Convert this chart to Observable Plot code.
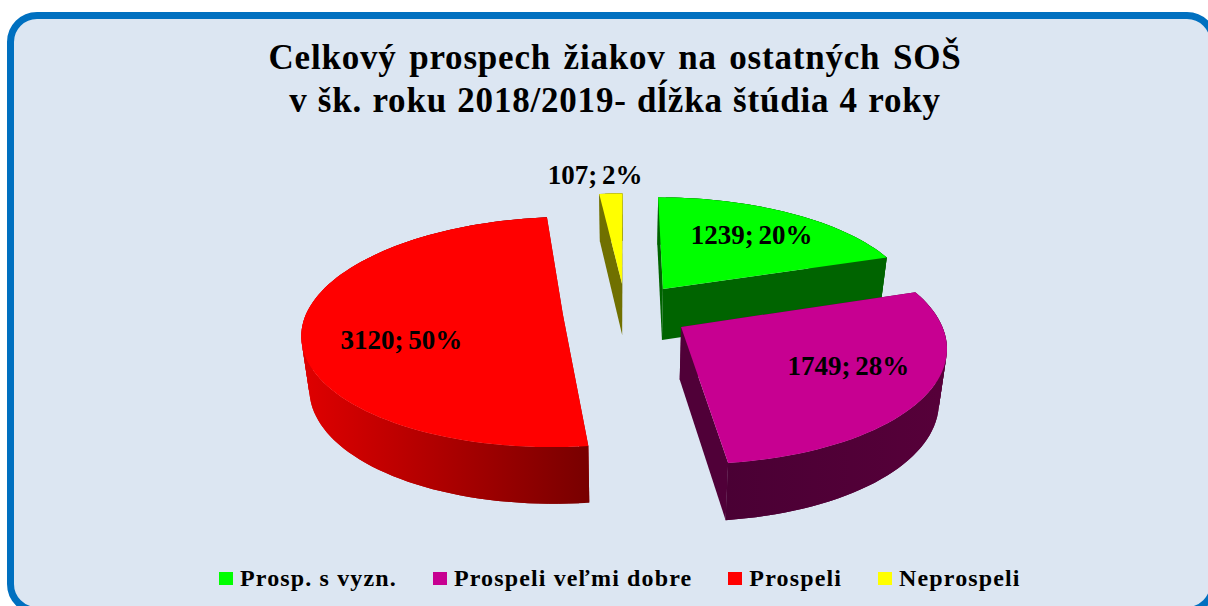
<!DOCTYPE html>
<html><head><meta charset="utf-8">
<script src="https://cdn.jsdelivr.net/npm/d3@7"></script>
<script src="https://cdn.jsdelivr.net/npm/@observablehq/plot@0.6"></script>
<style>
html,body{margin:0;padding:0;background:#fff;}
#stage{position:relative;width:1208px;height:606px;overflow:hidden;font-family:"Liberation Serif",serif;font-weight:bold;color:#000;}
#panel{position:absolute;left:7px;top:12px;width:1210px;height:602px;box-sizing:border-box;border:7.5px solid #0070c0;border-radius:30px;background:#dce6f2;}
#title{position:absolute;left:0;top:36px;width:1230px;text-align:center;font-size:35px;line-height:43px;letter-spacing:.8px;}
#title .l1{word-spacing:3px;} #title .l2{word-spacing:.8px;}
#chart{position:absolute;left:0;top:150px;}
#chart text{word-spacing:-2px;}
#legend{position:absolute;left:219px;top:564px;display:flex;gap:36px;font-size:24px;line-height:28px;letter-spacing:1.14px;white-space:nowrap;}
#legend .item{display:flex;align-items:center;gap:7px;}
#legend .sw{width:14px;height:13px;display:inline-block;}
</style></head>
<body><div id="stage"><div id="panel"></div>
<div id="title"><span class="l1">Celkový prospech žiakov na ostatných SOŠ</span><br><span class="l2">v šk. roku 2018/2019- dĺžka štúdia 4 roky</span></div>
<div id="chart"></div><div id="legend"></div></div>
<script>
const categories = ["Prosp. s vyzn.", "Prospeli veľmi dobre", "Prospeli", "Neprospeli"];
const values = [1239, 1749, 3120, 107];
const topColors = ["#00ff00", "#c70091", "#ff0000", "#ffff00"];
const wallColors = ["#006400", "#500038", "#a80000", "#707000"];
const arcShades = [["#006400","#006400"], ["#4a0034","#560039"], ["#dd0000","#780000"], ["#707000","#707000"]];
const drawOrder = [3, 0, 2, 1];
const explodeBy = [0.257, 0.252, 0.245, 0.257];
const labelRadius = [0.68, 0.68, 0.64, 1.24];
const labelTurn = [0, -4, -14, -3];

// camera of the 3D pie
const persp = 0.15, depth = 0.466, shrink = 0.025;
const rad = d => d * Math.PI / 180;
const total = d3.sum(values);
const arcs = d3.pie().sort(null).value(d => d)(values);
const project = (u, v, z) => {
  const w = 1 + persp * v;
  return {x: u / w * (1 - shrink * z), y: v / w - z * depth / (1 + 0.08 * v)};
};
const rows = [];
const arcExtent = [];
const addPoly = (poly, fill, pts) => pts.forEach(p => rows.push({poly, fill, x: p.x, y: p.y}));

drawOrder.forEach(i => {
  const a = arcs[i], mid = (a.startAngle + a.endAngle) / 2;
  const ou = explodeBy[i] * Math.sin(mid), ov = explodeBy[i] * Math.cos(mid);
  const at = (t, r, z) => project(ou + r * Math.sin(t), ov + r * Math.cos(t), z);
  const n = Math.max(2, Math.ceil((a.endAngle - a.startAngle) / rad(2)));
  const ts = d3.range(n + 1).map(k => a.startAngle + (a.endAngle - a.startAngle) * k / n);
  [a.startAngle, a.endAngle].forEach((t, k) =>
    addPoly(`${i}-wall-${k}`, wallColors[i], [at(t,0,0), at(t,1,0), at(t,1,1), at(t,0,1)]));
  arcExtent[i] = d3.extent(ts, t => at(t,1,1).x);
  // each strip of the outer wall overlaps the next one, so no seams show
  d3.range(n).forEach(k => {
    const s = ts.slice(k, k + 3);
    addPoly(`${i}-arc-${k}`, `url(#arc${i})`, [...s.map(t => at(t,1,0)), ...s.slice().reverse().map(t => at(t,1,1))]);
  });
  addPoly(`${i}-top`, topColors[i], [at(0,0,0), ...ts.map(t => at(t,1,0))]);
});

const labels = arcs.map((a, i) => {
  const mid = (a.startAngle + a.endAngle) / 2, t = mid + rad(labelTurn[i]);
  const p = project(explodeBy[i] * Math.sin(mid) + labelRadius[i] * Math.sin(t),
                    explodeBy[i] * Math.cos(mid) + labelRadius[i] * Math.cos(t), 0);
  return {...p, text: `${values[i]}; ${Math.round(values[i] / total * 100)}%`};
});

const gradients = (index, scales) => {
  const defs = d3.create("svg:defs");
  const g = defs.selectAll("linearGradient").data(arcShades).join("linearGradient")
    .attr("id", (d, i) => `arc${i}`)
    .attr("gradientUnits", "userSpaceOnUse")
    .attr("x1", (d, i) => scales.x(arcExtent[i][0])).attr("x2", (d, i) => scales.x(arcExtent[i][1]))
    .attr("y1", 0).attr("y2", 0);
  g.append("stop").attr("offset", "0%").attr("stop-color", d => d[0]);
  g.append("stop").attr("offset", "100%").attr("stop-color", d => d[1]);
  return defs.node();
};

const chart = Plot.plot({
  width: 1208, height: 400,
  margin: 0,
  style: {background: "transparent"},
  x: {domain: [-625 / 256, 583 / 256], range: [0, 1208], axis: null},
  y: {domain: [-2.1416, 1.4427], range: [400, 0], axis: null},
  color: {type: "identity"},
  marks: [
    gradients,
    Plot.line(rows, {x: "x", y: "y", z: "poly", fill: "fill", strokeWidth: 0}),
    Plot.text(labels, {x: "x", y: "y", text: "text", fontSize: 27, fontWeight: "bold",
      fontFamily: "Liberation Serif", fill: "#000"})
  ]
});
document.getElementById("chart").append(chart);

const legend = d3.select("#legend").selectAll("span.item").data(categories).join("span").attr("class", "item");
legend.append("span").attr("class", "sw").style("background", (d, i) => topColors[i]);
legend.append("span").text(d => d);
</script></body></html>
